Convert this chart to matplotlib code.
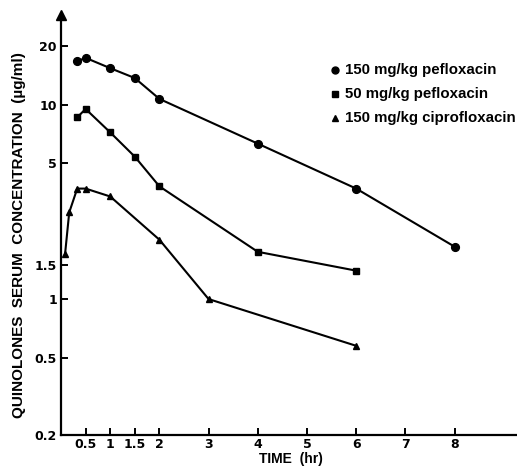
import matplotlib
matplotlib.use("Agg")
import matplotlib.pyplot as plt
from matplotlib.lines import Line2D

plt.rcParams['font.family'] = ['Liberation Sans', 'DejaVu Sans']

# Data (time in hours, concentration in ug/ml)
t_pef150 = [0.33, 0.5, 1, 1.5, 2, 4, 6, 8]
c_pef150 = [16.7, 17.4, 15.4, 13.7, 10.7, 6.3, 3.7, 1.86]

t_pef50 = [0.33, 0.5, 1, 1.5, 2, 4, 6]
c_pef50 = [8.6, 9.5, 7.2, 5.4, 3.8, 1.75, 1.40]

t_cip150 = [0.083, 0.167, 0.33, 0.5, 1, 2, 3, 6]
c_cip150 = [1.71, 2.79, 3.7, 3.7, 3.37, 2.02, 1.0, 0.575]

labels = ["150 mg/kg pefloxacin", "50 mg/kg pefloxacin", "150 mg/kg ciprofloxacin"]
xticks = [0.5, 1, 1.5, 2, 3, 4, 5, 6, 7, 8]
xticklabels = ["0.5", "1", "1.5", "2", "3", "4", "5", "6", "7", "8"]
yticks = [0.2, 0.5, 1, 1.5, 5, 10, 20]
yticklabels = ["0.2", "0.5", "1", "1.5", "5", "10", "20"]

W, H = 517, 467
fig = plt.figure(figsize=(W / 100, H / 100), dpi=100)
ax = fig.add_axes([61 / W, 1 - 435 / H, 1 - 61 / W, (435 - 15) / H])

lw = 1.5
ax.plot(t_pef150, c_pef150, '-o', color='black', lw=lw, ms=5.6, clip_on=False)
ax.plot(t_pef50, c_pef50, '-s', color='black', lw=lw, ms=4.7, clip_on=False)
ax.plot(t_cip150, c_cip150, '-^', color='black', lw=lw, ms=4.6, clip_on=False)

ax.set_yscale('log')
ax.set_xlim(0, (W - 61) / 49.2)
ax.set_ylim(0.2, 28.9)
ax.minorticks_off()
ax.set_yticks(yticks)
ax.set_yticklabels(yticklabels)
ax.set_xticks(xticks)
ax.set_xticklabels(xticklabels)
ax.tick_params(direction='in', length=5, width=1.4, labelsize=9)
ax.tick_params(axis='x', pad=2.5)
ax.tick_params(axis='y', pad=3)
for lab in ax.get_xticklabels() + ax.get_yticklabels():
    lab.set_fontweight('bold')
    lab.set_family('DejaVu Sans')

for s in ['top', 'right']:
    ax.spines[s].set_visible(False)
for s in ['left', 'bottom']:
    ax.spines[s].set_linewidth(1.6)

# arrow head on y axis
ax.plot([0], [1], marker='^', color='black', ms=7, transform=ax.transAxes, clip_on=False)

fig.text(19 / W, 1 - 235 / H, "QUINOLONES  SERUM  CONCENTRATION  (\u00b5g/ml)",
         rotation=90, ha='center', va='center', fontsize=11, fontweight='bold')
fig.text(291 / W, 1 - 466 / H, "TIME  (hr)", ha='center', va='bottom',
         fontsize=10, fontweight='bold')

# legend
markers = ['o', 's', '^']
mss = [5.0, 4.2, 4.2]
rows = [70, 94, 118]
for lab, m, ms, ry in zip(labels, markers, mss, rows):
    fig.lines.append(Line2D([335 / W], [1 - ry / H], marker=m, ms=ms, color='black',
                            linestyle='none', transform=fig.transFigure))
    fig.text(345 / W, 1 - ry / H, lab, ha='left', va='center', fontsize=10.8,
             fontweight='bold')

fig.savefig("out.png", dpi=100)
